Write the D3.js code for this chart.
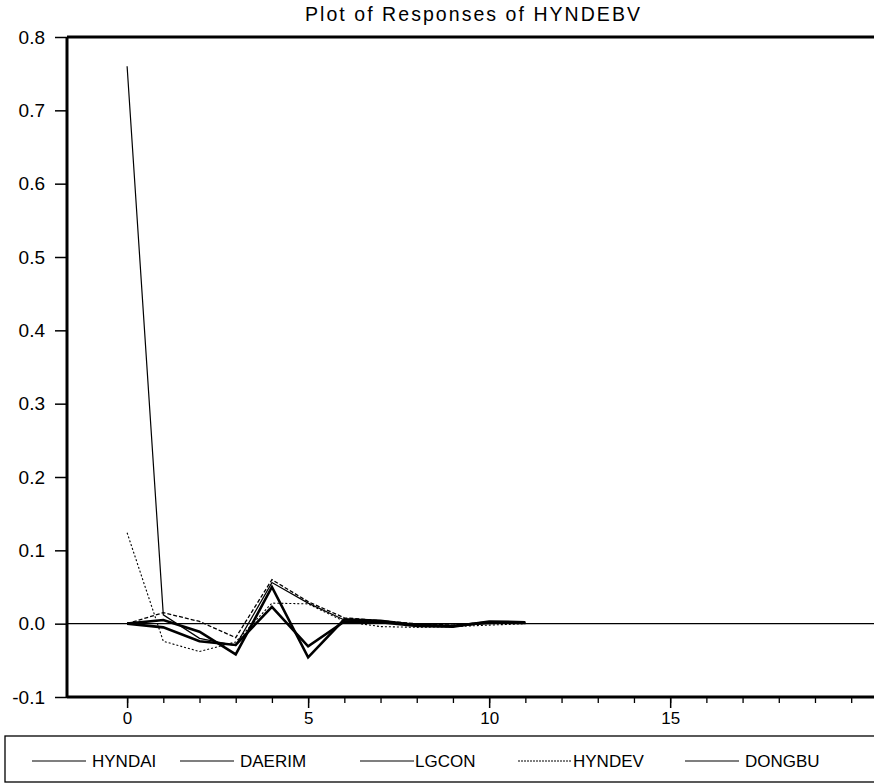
<html>
<meta charset="utf-8">
<script src='https://d3js.org/d3.v7.min.js'></script>
<style>
body {margin:0; background:white;}
text {font-family: "Liberation Sans", Arial, sans-serif; fill:black;}
</style>
<body>
<svg width=874 height=784></svg>
<script>
var steps = [0,1,2,3,4,5,6,7,8,9,10,11];
var names = ['HYNDAI','DAERIM','LGCON','HYNDEV','DONGBU'];
var hyndai = [0.76, 0.012, -0.02, -0.03, 0.056, 0.028, 0.005, 0.002, -0.002, -0.003, 0.0, 0.001];
var daerim = [0, 0.005, -0.011, -0.042, 0.05, -0.046, 0.006, 0.004, -0.002, -0.003, 0.002, 0.001];
var lgcon = [0, -0.005, -0.024, -0.029, 0.023, -0.031, 0.003, 0.002, -0.003, -0.004, 0.003, 0.002];
var hyndev = [0.124, -0.024, -0.038, -0.025, 0.028, 0.027, 0.003, -0.004, -0.005, -0.004, -0.002, 0.0];
var dongbu = [0, 0.015, 0.003, -0.019, 0.06, 0.03, 0.008, 0.004, 0.0, -0.002, 0.002, 0.001];
var yticks = [-0.1,0.0,0.1,0.2,0.3,0.4,0.5,0.6,0.7,0.8];
var xmajor = [0,5,10,15];
var xminor = d3.range(0,21);

var series = [hyndai, daerim, lgcon, hyndev, dongbu];
var widths = [1.2, 2.6, 2.6, 1.1, 1.3];
var dashes = [null, null, null, '2,2', '4,2'];

var mLeft = 67, mRight = 874, mTop = 37, mBottom = 697;
var xs = d3.scaleLinear().domain([-1.66, 20.63]).range([mLeft, mRight]);
var ys = d3.scaleLinear().domain([-0.1, 0.8]).range([mBottom, mTop]);
var svg = d3.select('svg');

svg.append('text').attr('x', 305).attr('y', 21)
  .attr('textLength', 335).attr('lengthAdjust','spacing')
  .style('font-size','19.5px').text('Plot of Responses of HYNDEBV');

// zero reference line
svg.append('line').attr('x1', mLeft).attr('x2', mRight).attr('y1', ys(0)).attr('y2', ys(0))
  .attr('stroke','black').attr('stroke-width',1.3);

var line = d3.line().x(function(d,i){return xs(steps[i]);}).y(function(d){return ys(d);});
series.forEach(function(s,k){
  svg.append('path').datum(s).attr('d', line).attr('fill','none')
    .attr('stroke','black').attr('stroke-width', widths[k])
    .attr('stroke-dasharray', dashes[k]).attr('stroke-linejoin','miter');
});

// frame top
svg.append('line').attr('x1', mLeft).attr('x2', mRight).attr('y1', mTop).attr('y2', mTop).attr('stroke','black').attr('stroke-width',3);

var yAxis = d3.axisLeft(ys).tickValues(yticks).tickSize(12).tickPadding(10)
  .tickFormat(function(d){return d.toFixed(1);});
var gy = svg.append('g').attr('transform','translate('+mLeft+',0)').call(yAxis);
gy.select('.domain').attr('stroke-width',3).attr('d','M0,'+mTop+'V'+mBottom);
gy.selectAll('.tick line').attr('stroke-width',1.5);
gy.selectAll('text').style('font-size','19px');

var xAxisMinor = d3.axisBottom(xs).tickValues(xminor).tickSize(6).tickFormat('');
var gx2 = svg.append('g').attr('transform','translate(0,'+mBottom+')').call(xAxisMinor);
gx2.select('.domain').remove();
gx2.selectAll('.tick line').attr('stroke-width',1.3);

var xAxis = d3.axisBottom(xs).tickValues(xmajor).tickSize(11).tickPadding(4);
var gx = svg.append('g').attr('transform','translate(0,'+mBottom+')').call(xAxis);
gx.select('.domain').attr('stroke-width',3).attr('d','M'+mLeft+',0H'+mRight);
gx.selectAll('.tick line').attr('stroke-width',1.5);
gx.selectAll('text').style('font-size','17px');

// legend
var lg = svg.append('g');
lg.append('rect').attr('x',5).attr('y',736).attr('width',880).attr('height',46)
  .attr('fill','none').attr('stroke','black').attr('stroke-width',1.3);
var lx = [32, 180, 360, 518, 685];
names.forEach(function(n,k){
  lg.append('line').attr('x1',lx[k]).attr('x2',lx[k]+54).attr('y1',761).attr('y2',761)
    .attr('stroke','black').attr('stroke-width',1.2).attr('stroke-dasharray', k==3 ? '2,1' : null);
  lg.append('text').attr('x', lx[k]+ (k==2||k==3 ? 55 : 60)).attr('y',767)
    .style('font-size','17px').text(n);
});
</script>
</body>
</html>
